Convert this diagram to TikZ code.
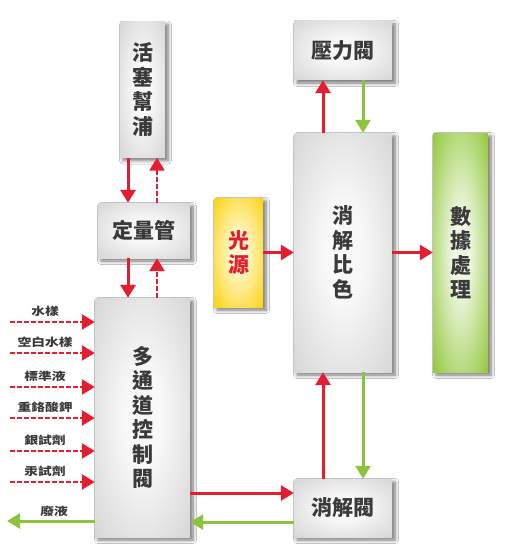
\documentclass[tikz,border=0pt]{standalone}
\usepackage{fontspec}
\newfontfamily\cjk{Noto Sans CJK TC}[BoldFont={Noto Sans CJK TC Black}]
\usetikzlibrary{arrows.meta,shadows.blur,calc}
\definecolor{gin}{RGB}{248,248,248}
\definecolor{gout}{RGB}{198,198,198}
\definecolor{yin}{RGB}{255,248,205}
\definecolor{yout}{RGB}{252,206,0}
\definecolor{grin}{RGB}{238,247,225}
\definecolor{grout}{RGB}{138,195,45}
\definecolor{ared}{RGB}{228,30,48}
\definecolor{agreen}{RGB}{140,196,62}
\definecolor{txt}{RGB}{58,58,58}
\pgfdeclareradialshading{grayrad}{\pgfpoint{0bp}{0bp}}{color(0bp)=(gin); color(10bp)=(gin); color(48bp)=(gout); color(75bp)=(gout)}
\pgfdeclareradialshading{yelrad}{\pgfpoint{0bp}{0bp}}{color(0bp)=(yin); color(8bp)=(yin); color(38bp)=(yout); color(75bp)=(yout)}
\pgfdeclareradialshading{grnrad}{\pgfpoint{0bp}{0bp}}{color(0bp)=(grin); color(8bp)=(grin); color(38bp)=(grout); color(75bp)=(grout)}
\tikzset{
  box/.style={shading=grayrad, inner sep=0pt, align=center, text=txt,
    font=\cjk\bfseries\fontsize{21}{24.5}\selectfont,
    blur shadow={shadow xshift=3pt, shadow yshift=-3pt, shadow blur steps=6, shadow blur radius=3.5pt, shadow opacity=55}},
  ybox/.style={box, shading=yelrad, text=ared},
  gbox/.style={box, shading=grnrad},
  ra/.style={draw=ared, line width=3pt, -{Triangle[width=15pt,length=13pt]}},
  rda/.style={ra, line width=2.6pt, dash pattern=on 5pt off 2pt},
  ga/.style={draw=agreen, line width=3pt, -{Triangle[width=15pt,length=13pt]}},
  lab/.style={text=txt, font=\cjk\bfseries\fontsize{11}{12}\selectfont, xscale=1.25, transform shape, inner sep=0pt},
}
\begin{document}
\begin{tikzpicture}[x=1pt,y=-1pt]
\fill[white] (0,0) rectangle (515,559);
\useasboundingbox (0,0) rectangle (515,559);
% nodes
\node[box, minimum width=45pt, minimum height=136pt] (pump) at (142.5,89.5) {活\\塞\\幫\\浦};
\node[box, minimum width=92pt, minimum height=55pt] (meter) at (144,230.5) {定量管};
\node[box, minimum width=95pt, minimum height=239pt] (multi) at (142.5,417.5) {多\\通\\道\\控\\制\\閥};
\node[ybox, minimum width=49pt, minimum height=109pt] (light) at (238.5,252.5) {光\\源};
\node[box, minimum width=98pt, minimum height=59pt] (press) at (343,50.5) {壓力閥};
\node[box, minimum width=98pt, minimum height=239pt] (digest) at (343,252.5) {消\\解\\比\\色};
\node[gbox, minimum width=55pt, minimum height=239pt] (data) at (460.5,252.5) {數\\據\\處\\理};
\node[box, minimum width=98pt, minimum height=58pt] (dvalve) at (343,508) {消解閥};
% helper coordinates
\coordinate (xa) at (128,0);
\coordinate (xb) at (157,0);
\coordinate (xc) at (323,0);
\coordinate (xd) at (363,0);
\coordinate (ya) at (0,493);
\coordinate (yb) at (0,522);
% pump / meter / multi
\draw[ra] (pump.south -| xa) -- (meter.north -| xa);
\draw[rda] (meter.north -| xb) -- (pump.south -| xb);
\draw[ra] (meter.south -| xa) -- (multi.north -| xa);
\draw[rda] (multi.north -| xb) -- (meter.south -| xb);
% light and digest
\draw[ra] (light.east) -- (digest.west);
\draw[ra] (digest.east) -- (data.west);
\draw[ra] (digest.north -| xc) -- (press.south -| xc);
\draw[ga] (press.south -| xd) -- (digest.north -| xd);
\draw[ra] (dvalve.north -| xc) -- (digest.south -| xc);
\draw[ga] (digest.south -| xd) -- (dvalve.north -| xd);
\draw[ra] (multi.east |- ya) -- (dvalve.west |- ya);
\draw[ga] (dvalve.west |- yb) -- (multi.east |- yb);
% inputs
\foreach \y/\t/\n in {322/水樣/i1, 353/空白水樣/i2, 387/標準液/i3, 418/重鉻酸鉀/i4, 451/銀試劑/i5, 482/汞試劑/i6}{
  \coordinate (s\n) at (10,\y);
  \draw[rda] (s\n) -- (multi.west |- s\n);
  \node[lab] (l\n) at (45,\y-11) {\t};
}
\coordinate (waste) at (7,521);
\draw[ga] (multi.west |- waste) -- (waste);
\node[lab] (lw) at (54,511) {廢液};
\end{tikzpicture}
\end{document}
